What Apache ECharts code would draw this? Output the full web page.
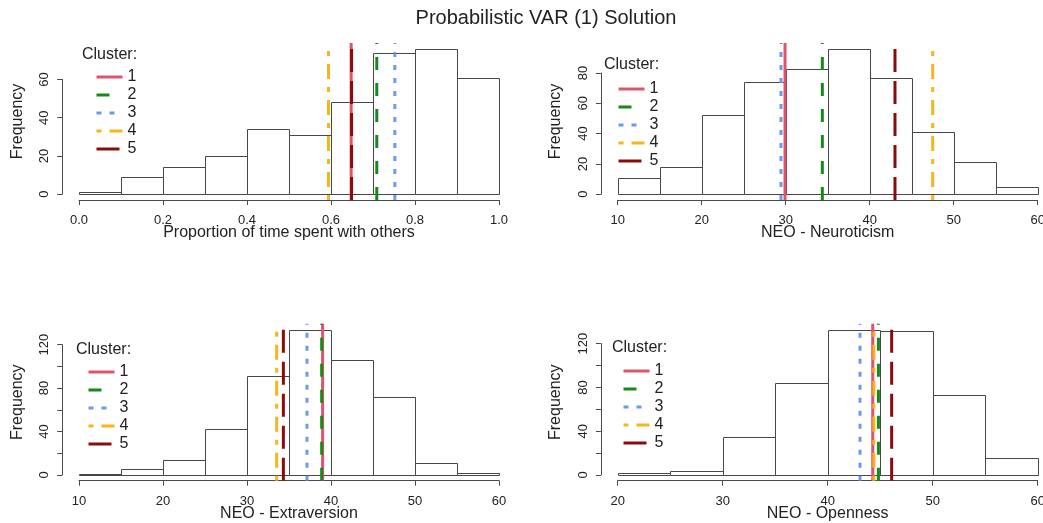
<!DOCTYPE html>
<html>
<head>
<meta charset="utf-8">
<script src="https://cdn.jsdelivr.net/npm/echarts@6/dist/echarts.min.js"></script>
<style>
html,body{margin:0;padding:0;background:#ffffff;}
#c{width:1043px;height:523px;}
</style>
</head>
<body>
<div id="c"></div>
<script>
// ---------------- DATA ----------------
const clusterNames = ['1', '2', '3', '4', '5'];

const timeBreaks = [0, 0.1, 0.2, 0.3, 0.4, 0.5, 0.6, 0.7, 0.8, 0.9, 1.0];
const timeCounts = [1, 9, 14, 20, 34, 31, 48, 74, 76, 61];
const timeMeans  = [0.648, 0.709, 0.752, 0.594, 0.649];
const timeXTicks = [0, 0.2, 0.4, 0.6, 0.8, 1.0];
const timeYTicks = [0, 20, 40, 60];
const timeYLabels = [0, 20, 40, 60];

const neuroBreaks = [10, 15, 20, 25, 30, 35, 40, 45, 50, 55, 60];
const neuroCounts = [11, 18, 52, 74, 83, 96, 77, 41, 21, 5];
const neuroMeans  = [29.92, 34.36, 29.44, 47.5, 43.01];
const neuroXTicks = [10, 20, 30, 40, 50, 60];
const neuroYTicks = [0, 20, 40, 60, 80];
const neuroYLabels = [0, 20, 40, 60, 80];

const extraBreaks = [10, 15, 20, 25, 30, 35, 40, 45, 50, 55, 60];
const extraCounts = [1, 5, 14, 42, 91, 134, 106, 72, 11, 2];
const extraMeans  = [39.0, 38.89, 37.14, 33.53, 34.33];
const extraXTicks = [10, 20, 30, 40, 50, 60];
const extraYTicks = [0, 20, 40, 60, 80, 100, 120];
const extraYLabels = [0, 40, 80, 120];

const openBreaks = [20, 25, 30, 35, 40, 45, 50, 55, 60];
const openCounts = [2, 4, 35, 84, 133, 132, 73, 15];
const openMeans  = [44.29, 44.83, 43.08, 44.4, 46.09];
const openXTicks = [20, 30, 40, 50, 60];
const openYTicks = [0, 20, 40, 60, 80, 100, 120];
const openYLabels = [0, 40, 80, 120];

const titleText = 'Probabilistic VAR (1) Solution';
const legendTitle = 'Cluster:';
const yName = 'Frequency';

// ---------------- STYLE / LAYOUT ----------------
const FONT = '"Liberation Sans", Arial, Helvetica, sans-serif';
const clusterColors = ['#E0536B', '#15891A', '#6A9AEE', '#F8B41C', '#8B0A0A'];
const clusterDash = ['solid', [13, 13], [5, 8], [5, 8, 15, 8], [23, 9]];
const AX = '#4a4a4a';
const TXT = '#222222';
const W = 453.6, H = 157;

const panels = [
  {breaks: timeBreaks, counts: timeCounts, means: timeMeans, xTicks: timeXTicks, yTicks: timeYTicks, yLabels: timeYLabels,
   xName: 'Proportion of time spent with others', digits: 1},
  {breaks: neuroBreaks, counts: neuroCounts, means: neuroMeans, xTicks: neuroXTicks, yTicks: neuroYTicks, yLabels: neuroYLabels,
   xName: 'NEO - Neuroticism', digits: 0},
  {breaks: extraBreaks, counts: extraCounts, means: extraMeans, xTicks: extraXTicks, yTicks: extraYTicks, yLabels: extraYLabels,
   xName: 'NEO - Extraversion', digits: 0},
  {breaks: openBreaks, counts: openCounts, means: openMeans, xTicks: openXTicks, yTicks: openYTicks, yLabels: openYLabels,
   xName: 'NEO - Openness', digits: 0}
];

const layout = [
  {left: 62.2, top: 43,    legLeft: 95,  legTop: 69,  capX: 82,  capY: 55},
  {left: 600.9, top: 43,   legLeft: 617, legTop: 81,  capX: 604, capY: 65},
  {left: 62.2, top: 323.7, legLeft: 87,  legTop: 364, capX: 76,  capY: 350},
  {left: 600.9, top: 323.7, legLeft: 622, legTop: 363, capX: 612, capY: 348}
];

const grid = [], xAxis = [], yAxis = [], series = [], legend = [], graphic = [];

graphic.push({type: 'text', x: 546, y: 18, silent: true,
  style: {text: titleText, font: '20px ' + FONT, fill: TXT, textAlign: 'center', textVerticalAlign: 'middle'}});

function mkGrid(left, top, width, height) {
  return {left: left, top: top, width: width, height: height, containLabel: false, outerBoundsMode: 'none'};
}

panels.forEach((p, i) => {
  const lay = layout[i];
  const b0 = p.breaks[0], bN = p.breaks[p.breaks.length - 1];
  const xr = bN - b0;
  const xMin = b0 - 0.04 * xr, xMax = bN + 0.04 * xr;
  const cMax = Math.max.apply(null, p.counts);
  const yMin = -0.04 * cMax, yMax = 1.04 * cMax;
  const g = grid.length;

  // main plot region
  grid.push(mkGrid(lay.left, lay.top, W, H));
  // x-axis band (tick range only)
  const t0 = p.xTicks[0], tN = p.xTicks[p.xTicks.length - 1];
  grid.push(mkGrid(lay.left + W * (t0 - xMin) / (xMax - xMin), lay.top, W * (tN - t0) / (xMax - xMin), H));
  // y-axis band (tick range only)
  const y0 = p.yTicks[0], yN = p.yTicks[p.yTicks.length - 1];
  grid.push(mkGrid(lay.left, lay.top + H * (yMax - yN) / (yMax - yMin), W, H * (yN - y0) / (yMax - yMin)));

  const hidden = {axisLine: {show: false}, axisTick: {show: false}, axisLabel: {show: false}, splitLine: {show: false}};

  xAxis.push(Object.assign({gridIndex: g, type: 'value', min: xMin, max: xMax,
    name: p.xName, nameLocation: 'middle', nameGap: 25,
    nameTextStyle: {fontSize: 16, color: TXT, fontFamily: FONT}}, hidden));
  yAxis.push(Object.assign({gridIndex: g, type: 'value', min: yMin, max: yMax,
    name: yName, nameLocation: 'middle', nameGap: 37, nameRotate: 90,
    nameTextStyle: {fontSize: 16, color: TXT, fontFamily: FONT}}, hidden));

  xAxis.push({gridIndex: g + 1, type: 'value', min: t0, max: tN, interval: p.xTicks[1] - p.xTicks[0],
    axisLine: {show: true, onZero: false, lineStyle: {color: AX, width: 1}},
    axisTick: {show: true, length: 5, lineStyle: {color: AX, width: 1}},
    axisLabel: {show: true, margin: 14, fontSize: 13, color: TXT, fontFamily: FONT, hideOverlap: false,
      formatter: v => Number(v).toFixed(p.digits)},
    splitLine: {show: false}});
  yAxis.push(Object.assign({gridIndex: g + 1, type: 'value', show: false, min: 0, max: 1}, hidden));

  xAxis.push(Object.assign({gridIndex: g + 2, type: 'value', show: false, min: 0, max: 1}, hidden));
  yAxis.push({gridIndex: g + 2, type: 'value', min: y0, max: yN, interval: p.yTicks[1] - p.yTicks[0],
    axisLine: {show: true, onZero: false, lineStyle: {color: AX, width: 1}},
    axisTick: {show: true, length: 5, lineStyle: {color: AX, width: 1}},
    axisLabel: {show: true, rotate: 90, margin: 11, fontSize: 13, color: TXT, fontFamily: FONT, hideOverlap: false,
      formatter: v => (p.yLabels.indexOf(Math.round(v)) >= 0 ? String(Math.round(v)) : '')},
    splitLine: {show: false}});

  // histogram
  series.push({
    type: 'custom', xAxisIndex: g, yAxisIndex: g, silent: true, z: 2,
    data: p.counts.map((c, k) => [p.breaks[k], p.breaks[k + 1], c]),
    encode: {x: [0, 1], y: 2},
    renderItem: function (params, api) {
      const a = api.coord([api.value(0), api.value(2)]);
      const b = api.coord([api.value(1), 0]);
      const x1 = Math.round(a[0]) + 0.5, x2 = Math.round(b[0]) + 0.5;
      const y1 = Math.round(a[1]) + 0.5, y2 = Math.round(b[1]) + 0.5;
      return {type: 'rect', shape: {x: x1, y: y1, width: x2 - x1, height: y2 - y1},
        style: {fill: '#ffffff', stroke: '#474747', lineWidth: 1}};
    }
  });

  // cluster mean lines
  clusterNames.forEach((nm, k) => {
    series.push({
      type: 'line', name: nm, xAxisIndex: g, yAxisIndex: g, silent: true, z: 3 + k,
      symbol: 'none', showSymbol: false,
      data: [[p.means[k], yMin], [p.means[k], yMax]],
      lineStyle: {color: clusterColors[k], width: 3, type: clusterDash[k], cap: 'butt'},
      itemStyle: {color: clusterColors[k]}
    });
  });

  legend.push({
    data: clusterNames, orient: 'vertical', left: lay.legLeft, top: lay.legTop,
    itemWidth: 26, itemHeight: 16, itemGap: 2, padding: 0, selectedMode: false,
    itemStyle: {opacity: 0, borderWidth: 0},
    lineStyle: {width: 3, cap: 'butt'},
    textStyle: {fontSize: 16, color: TXT, fontFamily: FONT}
  });

  graphic.push({type: 'text', x: lay.capX, y: lay.capY, silent: true,
    style: {text: legendTitle, font: '16px ' + FONT, fill: TXT, textAlign: 'left', textVerticalAlign: 'middle'}});
});

const chart = echarts.init(document.getElementById('c'));
chart.setOption({
  animation: false,
  backgroundColor: '#ffffff',
  grid: grid, xAxis: xAxis, yAxis: yAxis, series: series, legend: legend, graphic: graphic
});
</script>
</body>
</html>
